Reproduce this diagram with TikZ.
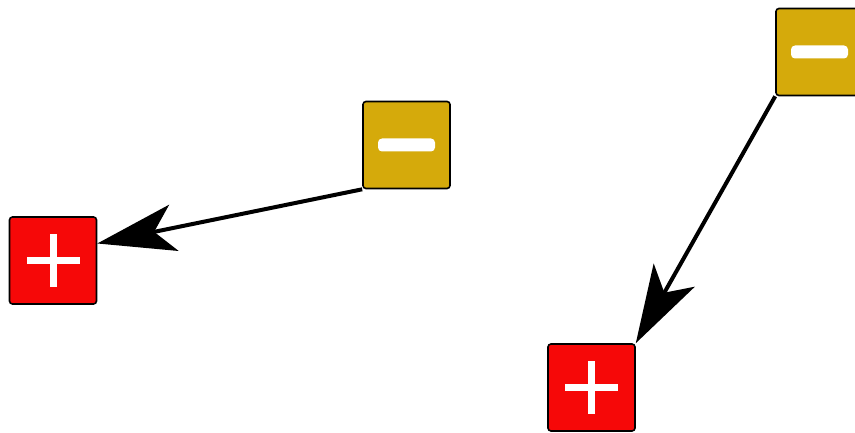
\documentclass[tikz,border=0pt]{standalone}
\usetikzlibrary{arrows.meta}
\definecolor{boxred}{RGB}{246,8,8}
\definecolor{boxgold}{RGB}{213,170,11}
\tikzset{
  basebox/.style={draw=black, line width=1.6pt, rounded corners=3pt, minimum size=87pt, inner sep=0pt},
  plusbox/.style={basebox, fill=boxred,
    path picture={
      \fill[white, sharp corners] ([xshift=-26.5pt,yshift=-3.5pt]path picture bounding box.center) rectangle ++(53pt,7pt);
      \fill[white, sharp corners] ([xshift=-3.5pt,yshift=-26.5pt]path picture bounding box.center) rectangle ++(7pt,53pt);
    }},
  minusbox/.style={basebox, fill=boxgold,
    path picture={
      \fill[white, rounded corners=4pt] ([xshift=-28.5pt,yshift=-6.5pt]path picture bounding box.center) rectangle ++(57pt,13pt);
    }},
  link/.style={line width=4pt, -{Stealth[length=78pt, width=47pt, inset=20pt]}}
}
\begin{document}
\begin{tikzpicture}[x=1pt,y=-1pt]
  \useasboundingbox (0,0) rectangle (855,433);
  \clip (0,0) rectangle (855,433);
  \node[plusbox]  (r1) at (53,260.5) {};
  \node[minusbox] (g1) at (406.5,145) {};
  \node[minusbox] (g2) at (819.5,52) {};
  \node[plusbox]  (r2) at (591.5,387.5) {};
  \draw[link] (g1.south west) -- ([yshift=17pt]r1.east);
  \draw[link] (g2.south west) -- (r2.north east);
\end{tikzpicture}
\end{document}
